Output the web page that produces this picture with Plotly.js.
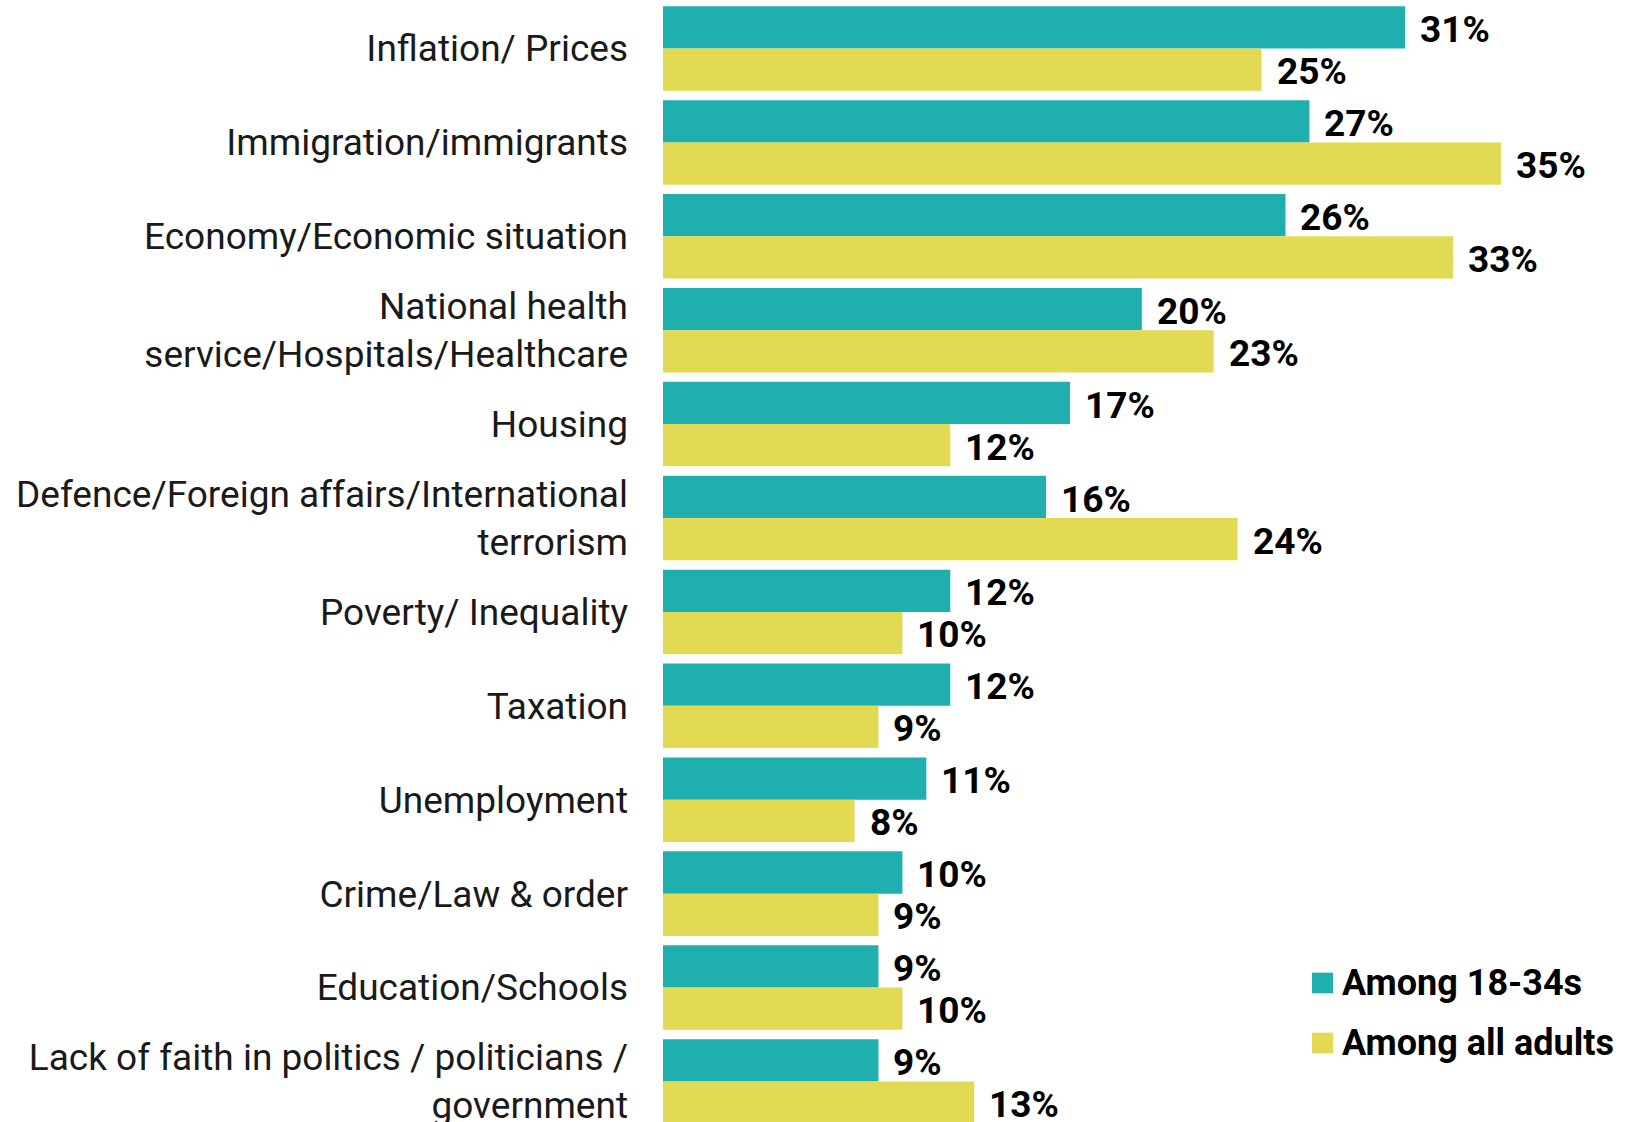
<!DOCTYPE html>
<html>
<head>
<meta charset="utf-8">
<script src="https://cdn.plot.ly/plotly-3.0.1.min.js"></script>
<style>
  html, body { margin: 0; padding: 0; background: #ffffff; overflow: hidden; }
  #chart { width: 1636px; height: 1122px; }
</style>
</head>
<body>
<div id="chart"></div>
<script>
// ---- Data ----
const categories = [
  "Inflation/ Prices",
  "Immigration/immigrants",
  "Economy/Economic situation",
  "National health<br>service/Hospitals/Healthcare",
  "Housing",
  "Defence/Foreign affairs/International<br>terrorism",
  "Poverty/ Inequality",
  "Taxation",
  "Unemployment",
  "Crime/Law & order",
  "Education/Schools",
  "Lack of faith in politics / politicians /<br>government"
];
const seriesNames = ["Among 18-34s", "Among all adults"];
const young = [31, 27, 26, 20, 17, 16, 12, 12, 11, 10, 9, 9];
const allAdults = [25, 35, 33, 23, 12, 24, 10, 9, 8, 9, 10, 13];

// ---- Styles ----
const TEAL = "#1FAFAE";
const YELLOW = "#E2DA52";
const colors = [TEAL, YELLOW];
const seriesValues = [young, allAdults];
const FONT = "Roboto, 'DejaVu Sans', sans-serif";

const traces = seriesValues.map((vals, i) => ({
  type: "bar",
  orientation: "h",
  name: seriesNames[i],
  x: vals,
  y: categories,
  marker: { color: colors[i], line: { width: 0 } },
  hoverinfo: "skip",
  showlegend: false
}));

// value labels placed at bar ends through the axes
const annotations = [];
seriesValues.forEach((vals, i) => {
  vals.forEach((v, j) => {
    annotations.push({
      x: v, y: categories[j], xref: "x", yref: "y",
      text: v + "%",
      showarrow: false,
      xanchor: "left", yanchor: "middle",
      xshift: 13,
      yshift: i === 0 ? 19 : -23,
      font: { family: FONT, size: 37, weight: 700, color: "#000000" }
    });
  });
});

// legend (swatches + labels)
const legY = [0.1239, 0.0704];
const shapes = [];
seriesNames.forEach((name, i) => {
  shapes.push({
    type: "rect", xref: "paper", yref: "paper",
    x0: 0.6670, x1: 0.6886,
    y0: legY[i] - 0.0092, y1: legY[i] + 0.0092,
    fillcolor: colors[i], line: { width: 0 }
  });
  annotations.push({
    x: 0.6955, y: legY[i], xref: "paper", yref: "paper",
    text: name, showarrow: false,
    xanchor: "left", yanchor: "middle",
    font: { family: FONT, size: 36, weight: 700, color: "#000000" }
  });
});

const layout = {
  width: 1636,
  height: 1122,
  margin: { l: 663, r: 0, t: 0, b: 0, pad: 0 },
  paper_bgcolor: "#ffffff",
  plot_bgcolor: "#ffffff",
  barmode: "group",
  bargap: 0.1,
  bargroupgap: 0,
  showlegend: false,
  xaxis: {
    range: [0, 40.64],
    visible: false,
    showgrid: false,
    zeroline: false,
    fixedrange: true
  },
  yaxis: {
    type: "category",
    range: [11.432, -0.5165],
    showgrid: false,
    zeroline: false,
    showline: false,
    ticks: "",
    ticklabelstandoff: 34,
    automargin: false,
    tickfont: { family: FONT, size: 37, color: "#1a1a1a" },
    fixedrange: true
  },
  annotations: annotations,
  shapes: shapes
};

Plotly.newPlot("chart", traces, layout, { staticPlot: true, displayModeBar: false });
</script>
</body>
</html>
